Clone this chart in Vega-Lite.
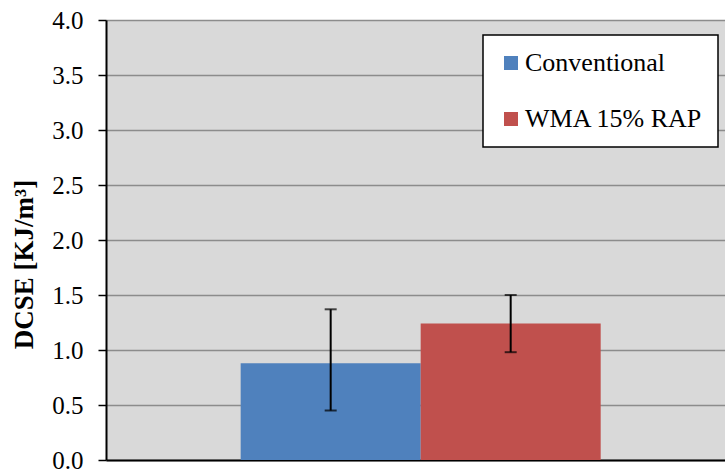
{
  "$schema": "https://vega.github.io/schema/vega-lite/v6.json",
  "autosize": "none",
  "width": 619,
  "height": 440,
  "padding": {"left": 106, "top": 20, "right": 0, "bottom": 11},
  "background": "white",
  "config": {
    "view": {"fill": "#D9D9D9", "stroke": null},
    "font": "Liberation Serif",
    "axis": {
      "labelFont": "Liberation Serif",
      "labelFontSize": 25,
      "labelColor": "black",
      "titleFont": "Liberation Serif",
      "titleColor": "black"
    }
  },
  "data": {
    "values": [
      {"series": "Conventional", "value": 0.88, "low": 0.45, "high": 1.37},
      {"series": "WMA 15% RAP", "value": 1.24, "low": 0.98, "high": 1.50}
    ]
  },
  "encoding": {
    "x": {
      "field": "series",
      "type": "nominal",
      "sort": ["Conventional", "WMA 15% RAP"],
      "scale": {"paddingInner": 0, "paddingOuter": 0.7194, "align": 0.52},
      "axis": {
        "title": null,
        "labels": false,
        "ticks": false,
        "grid": false,
        "domainColor": "black",
        "domainWidth": 2
      }
    }
  },
  "layer": [
    {
      "mark": {"type": "bar"},
      "encoding": {
        "y": {
          "field": "value",
          "type": "quantitative",
          "scale": {"domain": [0, 4]},
          "axis": {
            "title": "DCSE [KJ/m³]",
            "titleFont": "Liberation Serif",
            "titleFontSize": 27,
            "titleFontWeight": "bold",
            "titleColor": "black",
            "titlePadding": 13,
            "titleY": 244,
            "values": [0, 0.5, 1, 1.5, 2, 2.5, 3, 3.5, 4],
            "format": ".1f",
            "labelFont": "Liberation Serif",
            "labelFontSize": 25,
            "labelColor": "black",
            "labelPadding": 15,
            "tickColor": "black",
            "tickSize": 8,
            "tickWidth": 1.5,
            "domainColor": "black",
            "domainWidth": 2,
            "grid": true,
            "gridColor": "#8C8C8C",
            "gridWidth": 1.5
          }
        },
        "color": {
          "field": "series",
          "type": "nominal",
          "sort": ["Conventional", "WMA 15% RAP"],
          "scale": {"range": ["#4F81BD", "#C0504D"]},
          "legend": {
            "title": "\u00a0\u00a0\u00a0\u00a0\u00a0\u00a0\u00a0",
            "titleOrient": "right",
            "titleFontSize": 26,
            "titlePadding": 0,
            "orient": "none",
            "legendX": 377,
            "legendY": 15,
            "fillColor": "white",
            "strokeColor": "black",
            "padding": 15,
            "symbolType": "square",
            "symbolSize": 196,
            "symbolStrokeWidth": 0,
            "labelFont": "Liberation Serif",
            "labelFontSize": 26,
            "labelColor": "black",
            "labelOffset": 1,
            "rowPadding": 30,
            "labelLimit": 300,
            "encode": {"legend": {"update": {"strokeWidth": {"value": 1.5}}}}
          }
        }
      }
    },
    {
      "mark": {"type": "rule", "color": "black", "strokeWidth": 2},
      "encoding": {
        "y": {"field": "low", "type": "quantitative"},
        "y2": {"field": "high"}
      }
    },
    {
      "mark": {"type": "tick", "color": "black", "thickness": 2, "size": 12},
      "encoding": {"y": {"field": "low", "type": "quantitative"}}
    },
    {
      "mark": {"type": "tick", "color": "black", "thickness": 2, "size": 12},
      "encoding": {"y": {"field": "high", "type": "quantitative"}}
    }
  ]
}
